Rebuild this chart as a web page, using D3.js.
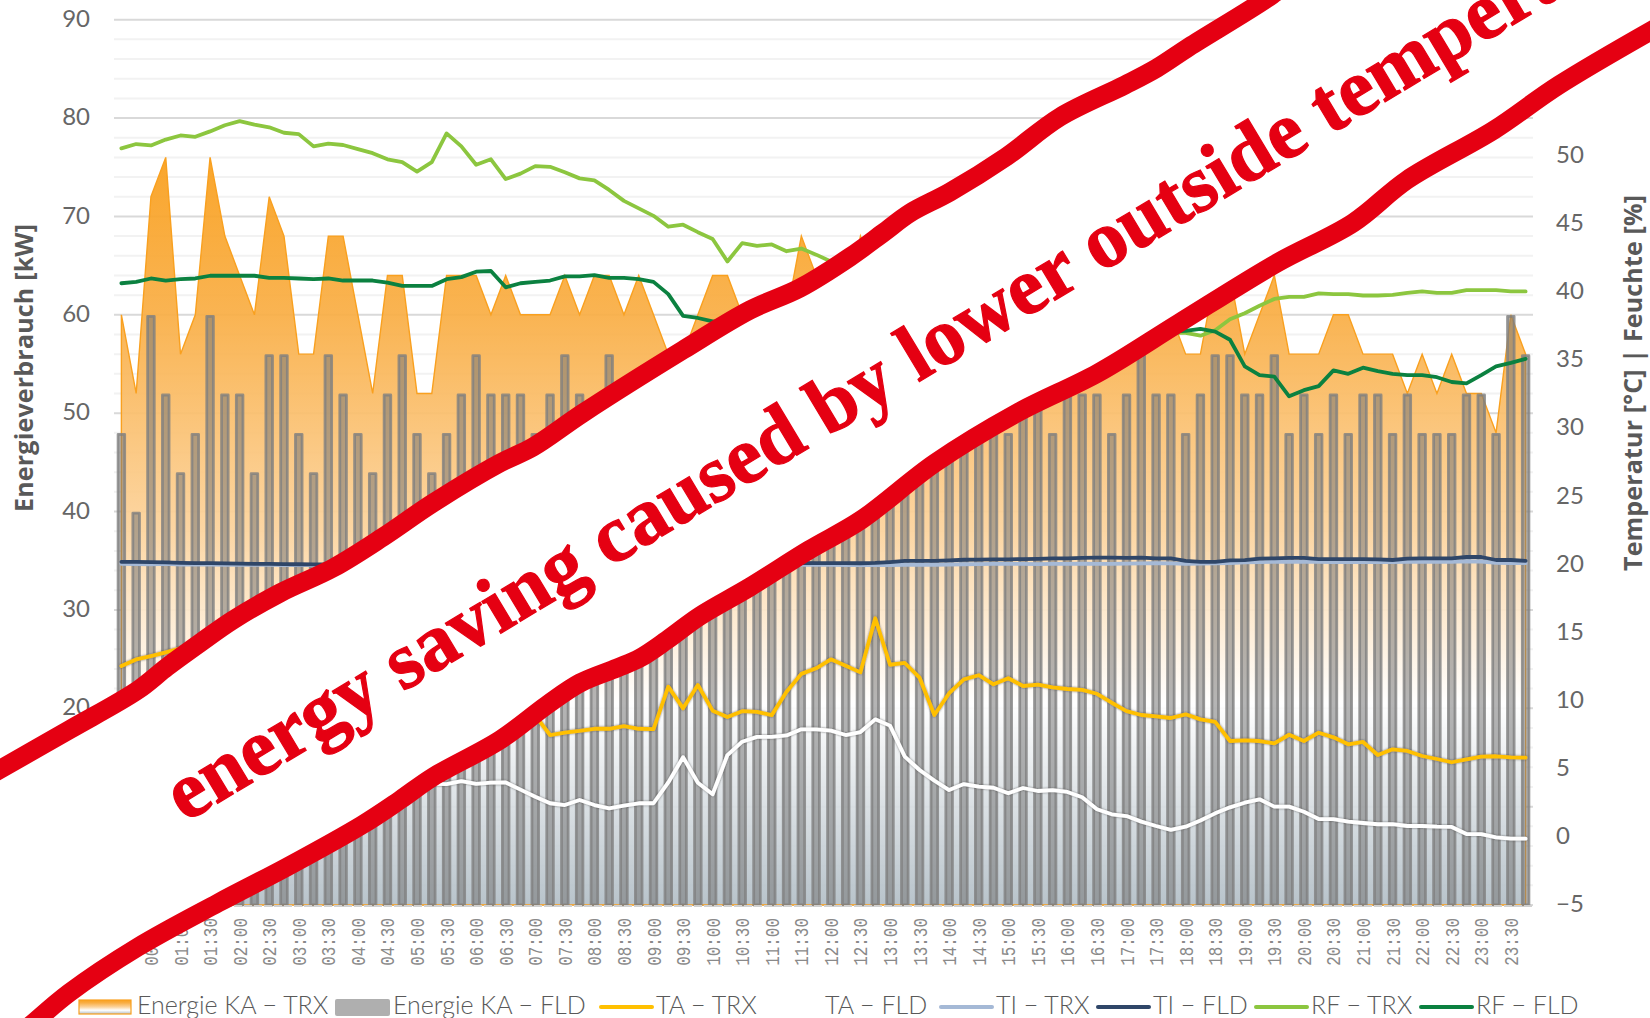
<!DOCTYPE html>
<html>
<head>
<meta charset="utf-8">
<script src="https://cdn.jsdelivr.net/npm/d3@7"></script>
<style>
  html, body { margin: 0; padding: 0; background: #fff; overflow: hidden; }
  text { font-family: Lato, sans-serif; }
</style>
</head>
<body>
<div id="chart"></div>
<script>
const times = ["00:00","00:15","00:30","00:45","01:00","01:15","01:30","01:45","02:00","02:15","02:30","02:45","03:00","03:15","03:30","03:45","04:00","04:15","04:30","04:45","05:00","05:15","05:30","05:45","06:00","06:15","06:30","06:45","07:00","07:15","07:30","07:45","08:00","08:15","08:30","08:45","09:00","09:15","09:30","09:45","10:00","10:15","10:30","10:45","11:00","11:15","11:30","11:45","12:00","12:15","12:30","12:45","13:00","13:15","13:30","13:45","14:00","14:15","14:30","14:45","15:00","15:15","15:30","15:45","16:00","16:15","16:30","16:45","17:00","17:15","17:30","17:45","18:00","18:15","18:30","18:45","19:00","19:15","19:30","19:45","20:00","20:15","20:30","20:45","21:00","21:15","21:30","21:45","22:00","22:15","22:30","22:45","23:00","23:15","23:30","23:45"];

// kW, left axis
const energyTRX = [60,52,72,76,56,60,76,68,64,60,72,68,56,56,68,68,60,52,64,64,52,52,64,64,64,60,64,60,60,60,64,60,64,64,60,64,60,56,56,60,64,64,60,56,56,60,68,64,60,60,68,64,60,60,56,60,60,56,60,60,56,60,56,60,60,56,60,56,60,60,64,60,56,56,64,64,56,60,64,56,56,56,60,60,56,56,56,52,56,52,56,52,52,48,60,56];
const energyFLD = [48,40,60,52,44,48,60,52,52,44,56,56,48,44,56,52,48,44,52,56,48,44,48,52,56,52,52,52,48,52,56,52,48,56,52,48,52,52,56,52,52,48,56,52,48,52,52,56,48,52,48,52,56,52,48,52,52,48,52,56,48,52,52,48,52,52,52,48,52,56,52,52,48,52,56,56,52,52,56,48,52,48,52,48,52,52,48,52,48,48,48,52,52,48,60,56];

// °C and %, right axis
const taTRX = [12.55,13.03,13.28,13.55,13.85,14.1,14.0,14.3,14.5,14.2,13.9,14.0,13.6,13.2,13.4,13.0,12.6,12.2,12.0,11.5,11.1,10.9,10.6,10.4,10.5,10.1,9.8,9.4,8.9,7.48,7.65,7.78,7.94,7.94,8.14,7.94,7.92,11.03,9.44,11.15,9.27,8.8,9.23,9.18,8.94,10.66,11.97,12.38,13.04,12.57,12.08,16.05,12.64,12.77,11.69,8.95,10.55,11.57,11.87,11.2,11.65,11.08,11.18,10.98,10.86,10.79,10.51,9.85,9.24,8.95,8.85,8.73,9.0,8.63,8.44,7.04,7.09,7.04,6.87,7.5,7.04,7.65,7.31,6.8,6.97,6.01,6.43,6.31,5.94,5.72,5.48,5.7,5.89,5.92,5.84,5.82];
const taFLD = [5.2,5.1,5.3,5.0,4.9,5.1,4.8,4.6,4.7,4.5,4.4,4.6,4.3,4.2,4.4,4.1,4.0,4.2,3.9,3.8,3.9,3.9,3.88,4.1,3.9,3.98,4.0,3.47,2.95,2.47,2.34,2.71,2.34,2.1,2.29,2.47,2.47,4.0,5.85,3.98,3.13,6.01,6.99,7.34,7.35,7.45,7.9,7.9,7.8,7.48,7.7,8.63,8.17,5.89,4.91,4.13,3.44,3.88,3.69,3.61,3.2,3.59,3.37,3.44,3.3,2.91,2.03,1.66,1.53,1.12,0.8,0.51,0.75,1.2,1.73,2.17,2.51,2.76,2.22,2.22,1.85,1.31,1.31,1.12,1.02,0.93,0.93,0.8,0.8,0.75,0.73,0.21,0.21,-0.03,-0.13,-0.13];
const tiTRX = [20.05,20.03,20.02,20.04,20.0,20.02,20.0,19.98,20.0,19.97,19.98,19.96,19.95,19.97,19.96,19.95,19.98,20.0,19.97,19.96,20.0,20.02,19.98,20.0,20.03,20.0,19.98,20.0,20.02,20.0,19.97,19.98,20.0,20.02,19.98,20.0,19.97,19.95,19.98,20.0,19.98,19.97,19.98,20.0,19.96,19.95,19.98,19.97,19.98,19.96,19.95,19.97,19.96,19.98,19.97,19.98,20.0,20.02,20.03,20.04,20.04,20.05,20.03,20.04,20.05,20.06,20.04,20.05,20.06,20.08,20.09,20.08,20.05,20.06,20.08,20.1,20.15,20.18,20.2,20.2,20.2,20.2,20.18,20.2,20.18,20.2,20.18,20.2,20.2,20.22,20.2,20.24,20.22,20.12,20.1,20.1];
const tiFLD = [20.2,20.19,20.17,20.15,20.12,20.1,20.1,20.08,20.06,20.05,20.04,20.03,20.02,20.01,20.0,20.0,20.02,20.0,20.03,20.05,20.02,20.0,20.04,20.03,20.05,20.02,20.0,20.04,20.06,20.03,20.05,20.07,20.04,20.02,20.05,20.06,20.1,20.08,20.12,20.1,20.13,20.12,20.13,20.1,20.12,20.1,20.12,20.1,20.1,20.1,20.09,20.12,20.18,20.26,20.26,20.26,20.3,20.35,20.36,20.38,20.38,20.4,20.42,20.45,20.45,20.48,20.5,20.5,20.48,20.5,20.45,20.45,20.26,20.2,20.2,20.3,20.32,20.43,20.45,20.48,20.48,20.4,20.4,20.4,20.4,20.38,20.33,20.43,20.45,20.45,20.45,20.55,20.55,20.33,20.33,20.26];
const rfTRX = [50.55,50.87,50.77,51.2,51.5,51.4,51.8,52.25,52.55,52.3,52.1,51.7,51.6,50.7,50.9,50.8,50.5,50.2,49.75,49.55,48.85,49.55,51.65,50.7,49.35,49.75,48.3,48.7,49.25,49.2,48.8,48.35,48.2,47.5,46.7,46.15,45.6,44.8,44.95,44.4,43.9,42.25,43.6,43.4,43.5,43.0,43.2,42.75,42.25,42.0,41.7,41.3,41.1,40.6,40.4,40.1,39.8,39.5,39.3,38.9,38.7,38.6,38.2,38.1,37.9,37.8,37.5,37.5,37.3,37.1,37.1,37.0,37.0,36.8,37.2,38.0,38.45,39.0,39.5,39.65,39.65,39.9,39.85,39.85,39.75,39.75,39.8,39.95,40.05,39.95,39.95,40.15,40.15,40.15,40.05,40.05];
const rfFLD = [40.65,40.75,41.0,40.85,40.95,41.0,41.2,41.2,41.2,41.2,41.05,41.05,41.0,40.95,41.0,40.85,40.85,40.85,40.7,40.45,40.45,40.45,40.95,41.1,41.5,41.55,40.35,40.65,40.75,40.85,41.15,41.15,41.25,41.05,41.05,40.95,40.75,39.85,38.25,38.1,37.85,37.85,37.8,37.7,37.75,37.6,37.5,37.6,37.4,37.5,37.4,37.3,37.4,37.2,37.3,37.1,37.2,37.1,37.0,37.1,36.9,37.0,37.1,37.0,36.9,37.0,37.1,37.0,37.1,37.0,37.1,37.1,37.15,37.3,37.1,36.5,34.55,33.9,33.8,32.35,32.8,33.1,34.25,34.0,34.45,34.2,34.0,33.9,33.9,33.75,33.4,33.3,33.9,34.55,34.8,35.1];

const leftTicks = [0,10,20,30,40,50,60,70,80,90];
const minorTicks = d3.range(0, 91, 2);
const rightTicks = [-5,0,5,10,15,20,25,30,35,40,45,50];

const width = 1650, height = 1018;
const plot = {left: 114, right: 1533, top: 19.7, bottom: 905};

const x = d3.scaleBand().domain(times).range([plot.left, plot.right]);
const cx = function(d) { return x(d) + x.bandwidth() / 2; };
const yLeft = d3.scaleLinear().domain([0, 90]).range([plot.bottom, plot.top]);
const yRight = d3.scaleLinear().domain([-5, 60]).range([plot.bottom, plot.top]);

const svg = d3.select("#chart").append("svg")
    .attr("width", width)
    .attr("height", height)
    .style("display", "block");

const defs = svg.append("defs");

// area fill runs orange -> white -> blue grey like the office gradient
function orangeGradient(id, units) {
    const g = defs.append("linearGradient").attr("id", id);
    if (units) {
        g.attr("gradientUnits", "userSpaceOnUse")
            .attr("x1", 0).attr("x2", 0)
            .attr("y1", yLeft(76)).attr("y2", yLeft(0));
    } else {
        g.attr("x1", 0).attr("x2", 0).attr("y1", 0).attr("y2", 1);
    }
    [[0, "#f99f1c"], [0.21, "#f9ae45"], [0.5, "#fcd39c"], [0.73, "#ffffff"], [1, "#b3bfc7"]].forEach(function(s) {
        g.append("stop").attr("offset", s[0]).attr("stop-color", s[1]);
    });
}
orangeGradient("areaFill", true);
orangeGradient("swatchFill", false);

defs.append("filter").attr("id", "soft")
    .append("feGaussianBlur").attr("stdDeviation", 0.7);

const glow = defs.append("filter").attr("id", "glow")
    .attr("x", "-5%").attr("y", "-20%").attr("width", "110%").attr("height", "140%");
glow.append("feDropShadow")
    .attr("dx", 0).attr("dy", 0).attr("stdDeviation", 1.3)
    .attr("flood-color", "#444").attr("flood-opacity", 0.75);

// gridlines
svg.append("g").selectAll("line")
    .data(minorTicks)
    .enter().append("line")
    .attr("x1", plot.left).attr("x2", plot.right)
    .attr("y1", function(d) { return yLeft(d); })
    .attr("y2", function(d) { return yLeft(d); })
    .attr("stroke", function(d) { return d % 10 === 0 ? "#d9d9d9" : "#f2f2f2"; })
    .attr("stroke-width", 2);

// Energie KA - TRX
const area = d3.area()
    .x(function(d, i) { return cx(times[i]); })
    .y0(yLeft(0))
    .y1(function(d) { return yLeft(d); });

svg.append("path")
    .datum(energyTRX)
    .attr("d", area)
    .attr("fill", "url(#areaFill)")
    .attr("fill-opacity", 0.93)
    .attr("stroke", "#f9a01f")
    .attr("stroke-width", 1.4);

// Energie KA - FLD
svg.append("g")
    .attr("filter", "url(#soft)")
    .selectAll("rect")
    .data(energyFLD)
    .enter().append("rect")
    .attr("x", function(d, i) { return cx(times[i]) - 3.3; })
    .attr("width", 6.6)
    .attr("y", function(d) { return yLeft(d) + 1.5; })
    .attr("height", function(d) { return yLeft(0) - yLeft(d) - 1.5; })
    .attr("fill", "#787878")
    .attr("fill-opacity", 0.55)
    .attr("stroke", "#7f7f7f")
    .attr("stroke-opacity", 0.8)
    .attr("stroke-width", 2.8)
    .attr("stroke-linejoin", "round");

// base line
svg.append("line")
    .attr("x1", plot.left).attr("x2", plot.right)
    .attr("y1", plot.bottom + 1).attr("y2", plot.bottom + 1)
    .attr("stroke", "#d0d0d0")
    .attr("stroke-width", 2)
    .attr("stroke-dasharray", "8 2");

const lineGen = d3.line()
    .x(function(d, i) { return cx(times[i]); })
    .y(function(d) { return yRight(d); });

const lineSeries = [
    {name: "TA - TRX", values: taTRX, color: "#ffc000", glow: true},
    {name: "TA - FLD", values: taFLD, color: "#ffffff", glow: true},
    {name: "TI - TRX", values: tiTRX, color: "#a5b9d6"},
    {name: "TI - FLD", values: tiFLD, color: "#2f4668"},
    {name: "RF - TRX", values: rfTRX, color: "#8cc63f"},
    {name: "RF - FLD", values: rfFLD, color: "#0b8140"}
];

lineSeries.forEach(function(s) {
    svg.append("path")
        .datum(s.values)
        .attr("d", lineGen)
        .attr("fill", "none")
        .attr("stroke", s.color)
        .attr("stroke-width", 3.8)
        .attr("stroke-linejoin", "round")
        .attr("stroke-linecap", "round")
        .attr("filter", s.glow ? "url(#glow)" : null);
});

// axes
const gLeft = svg.append("g")
    .attr("transform", "translate(90,-1)")
    .call(d3.axisLeft(yLeft).tickValues(leftTicks).tickSize(0).tickPadding(0));
const gRight = svg.append("g")
    .attr("transform", "translate(1556,-1)")
    .call(d3.axisRight(yRight).tickValues(rightTicks).tickSize(0).tickPadding(0)
        .tickFormat(function(d) { return d < 0 ? "\u2212" + Math.abs(d) : d; }));
[gLeft, gRight].forEach(function(g) {
    g.select(".domain").remove();
    g.selectAll("text")
        .style("font-family", "Lato, sans-serif")
        .style("font-size", "24px")
        .style("font-weight", 400)
        .attr("fill", "#666");
});

// half hour labels, standing upright under the plot
svg.append("g").selectAll("text")
    .data(times.filter(function(d, i) { return i % 2 === 0; }))
    .enter().append("text")
    .text(function(d) { return d; })
    .attr("transform", function(d) { return "translate(" + (cx(d) + 7) + ",918) rotate(-90) scale(0.76,1)"; })
    .attr("text-anchor", "end")
    .style("font-family", "'Liberation Mono', monospace")
    .style("font-size", "21px")
    .attr("fill", "#8a8a8a");

// axis titles
svg.append("text")
    .text("Energieverbrauch [kW]")
    .attr("transform", "translate(33,368) rotate(-90)")
    .attr("text-anchor", "middle")
    .attr("textLength", 288)
    .style("font-family", "'Open Sans', sans-serif")
    .style("font-size", "25px")
    .style("font-weight", 700)
    .attr("fill", "#595959");
svg.append("text")
    .text("Temperatur [°C] | Feuchte [%]")
    .attr("transform", "translate(1642,383) rotate(-90)")
    .attr("text-anchor", "middle")
    .attr("textLength", 376)
    .style("font-family", "'Open Sans', sans-serif")
    .style("font-size", "25px")
    .style("font-weight", 700)
    .attr("fill", "#595959");

// legend
const legendNames = ["Energie KA \u2212 TRX", "Energie KA \u2212 FLD", "TA \u2212 TRX", "TA \u2212 FLD", "TI \u2212 TRX", "TI \u2212 FLD", "RF \u2212 TRX", "RF \u2212 FLD"];
const legendTextX = [137, 393, 656, 825, 996, 1153, 1311, 1476];
const legend = svg.append("g");
legend.append("rect")
    .attr("x", 79).attr("y", 1000).attr("width", 52).attr("height", 14)
    .attr("fill", "url(#swatchFill)")
    .attr("stroke", "#f9a01f").attr("stroke-width", 1.2);
legend.append("rect")
    .attr("x", 335).attr("y", 999).attr("width", 55).attr("height", 17).attr("rx", 2)
    .attr("fill", "#afafaf");
lineSeries.forEach(function(s, i) {
    legend.append("line")
        .attr("x1", legendTextX[i + 2] - 55).attr("x2", legendTextX[i + 2] - 4)
        .attr("y1", 1007).attr("y2", 1007)
        .attr("stroke", s.color)
        .attr("stroke-width", 4)
        .attr("stroke-linecap", "round");
});
legend.selectAll("text")
    .data(legendNames)
    .enter().append("text")
    .text(function(d) { return d; })
    .attr("x", function(d, i) { return legendTextX[i]; })
    .attr("y", 1014)
    .style("font-size", "25px")
    .style("font-weight", 300)
    .attr("fill", "#595959");

// hand drawn banner on top of the chart
const bannerTop = [[-10,775],[69,730],[138,690],[167,667],[200,643],[233,620],[280,593],[333,568],[383,537],[433,503],[500,463],[533,447],[583,413],[683,350],[750,310],[800,288],[850,257],[883,233],[910,213],[950,192],[1006,157],[1060,117],[1125,85],[1157,68],[1189,47],[1272,-5],[1290,-20]];
const bannerBottom = [[1670,20],[1559,85],[1494,130],[1407,180],[1353,223],[1277,263],[1179,323],[1098,373],[1017,413],[935,463],[861,520],[809,550],[750,587],[700,616],[667,640],[640,658],[617,668],[580,683],[547,705],[500,740],[433,777],[400,800],[362,825],[287,867],[218,903],[138,947],[69,993],[25,1030],[0,1050]];
const bannerLine = d3.line().curve(d3.curveCatmullRom.alpha(0.5));

svg.append("path")
    .attr("d", "M" + bannerTop.concat(bannerBottom).map(function(p) { return p.join(","); }).join("L") + "Z")
    .attr("fill", "#fff");
[bannerTop, bannerBottom].forEach(function(pts) {
    svg.append("path")
        .attr("d", bannerLine(pts))
        .attr("fill", "none")
        .attr("stroke", "#e50012")
        .attr("stroke-width", 19);
});

svg.append("text")
    .text("energy saving caused by lower outside temperature")
    .attr("transform", "translate(185,823) rotate(-31)")
    .style("font-family", "'Liberation Serif', serif")
    .style("font-size", "81px")
    .style("font-weight", 700)
    .attr("fill", "#e50012")
    .attr("stroke", "#e50012")
    .attr("stroke-width", 1.2);
</script>
</body>
</html>
